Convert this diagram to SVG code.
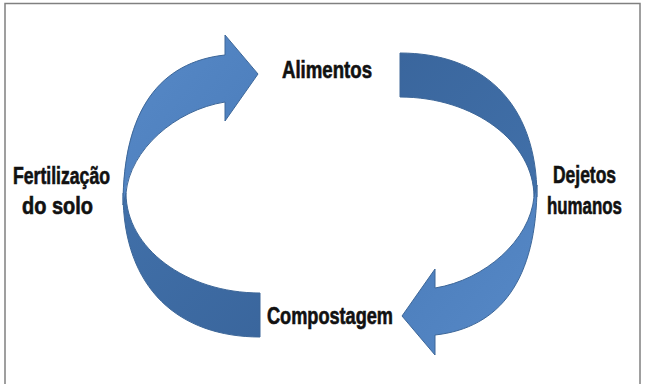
<svg xmlns="http://www.w3.org/2000/svg" width="645" height="384" viewBox="0 0 645 384">
<defs>
<style>
.lbl{font-family:"Liberation Sans",Arial,sans-serif;font-weight:bold;font-size:23px;fill:#111;stroke:#111;stroke-width:0.6}
.front{fill:url(#gFront);stroke:#3d6799;stroke-width:1}
.back{fill:url(#gBack);stroke:#3d6799;stroke-width:1}
</style>
<linearGradient id="gFront" x1="0" y1="0" x2="1" y2="1">
<stop offset="0" stop-color="#5789c7"/>
<stop offset="1" stop-color="#4a7cba"/>
</linearGradient>
<linearGradient id="gBack" x1="0" y1="0" x2="1" y2="1">
<stop offset="0" stop-color="#4170a9"/>
<stop offset="1" stop-color="#3a669d"/>
</linearGradient>
<g id="curvedArrow">
<path class="back" d="M260,337 L260,293 C186,293 126,248 126,193 L123,193 C123,290 180,337 260,337 Z"/>
<path class="front" d="M123,205 C123,110 160,62 225,55 L225,35 L258,74 L225,121 L225,102 C175,110 130,150 126,193 Z"/>
</g>
</defs>
<rect x="5" y="3.5" width="635" height="400" fill="#fff" stroke="#808080" stroke-width="1.5"/>
<g id="connectors">
<use id="arrow-fertilizacao-alimentos" href="#curvedArrow"/>
<use id="arrow-dejetos-compostagem" href="#curvedArrow" transform="rotate(180 330 195)"/>
</g>
<g id="node-alimentos"><text class="lbl" x="282" y="78" textLength="90" lengthAdjust="spacingAndGlyphs">Alimentos</text></g>
<g id="node-dejetos"><text class="lbl" x="553" y="183" textLength="63" lengthAdjust="spacingAndGlyphs">Dejetos</text><text class="lbl" x="547" y="214" textLength="75" lengthAdjust="spacingAndGlyphs">humanos</text></g>
<g id="node-compostagem"><text class="lbl" x="267" y="324" textLength="126" lengthAdjust="spacingAndGlyphs">Compostagem</text></g>
<g id="node-fertilizacao"><text class="lbl" x="13" y="184" textLength="97" lengthAdjust="spacingAndGlyphs">Fertilização</text><text class="lbl" x="22" y="214" textLength="71" lengthAdjust="spacingAndGlyphs">do solo</text></g>
</svg>
